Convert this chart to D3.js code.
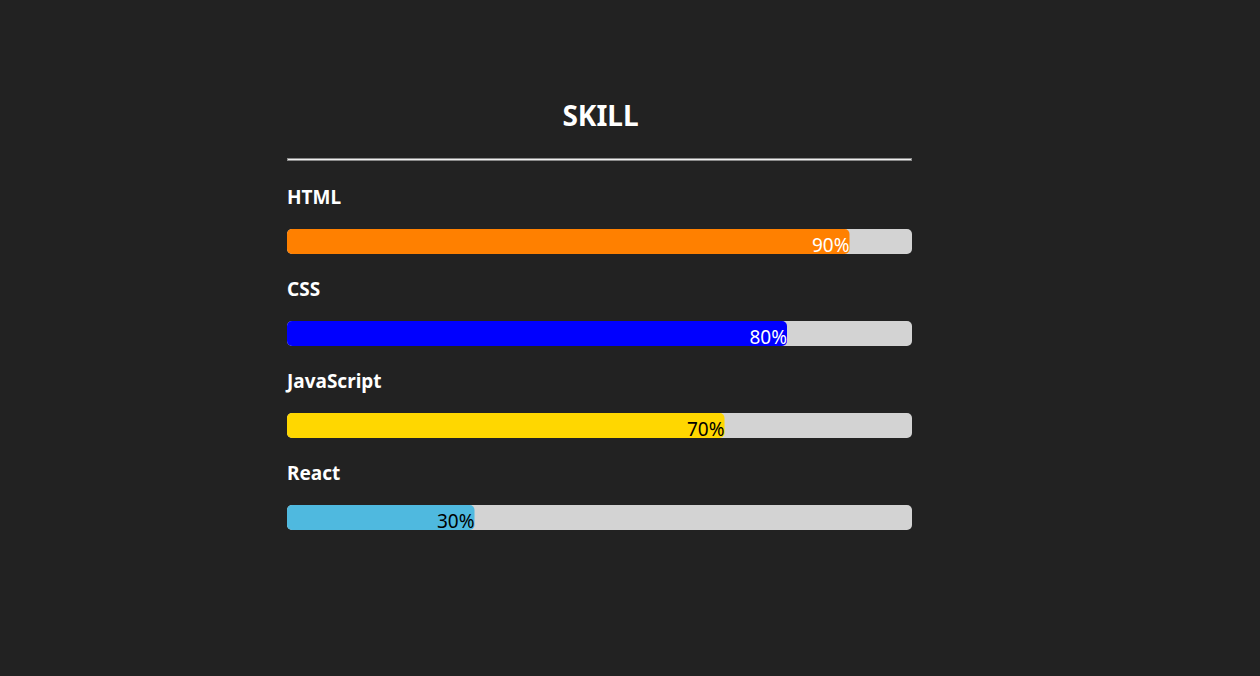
<!DOCTYPE html>
<html>
<head>
<meta charset="utf-8">
<script src="https://cdn.jsdelivr.net/npm/d3@7"></script>
<style>
  html, body { margin: 0; padding: 0; background: #222222; }
  svg { display: block; }
</style>
</head>
<body>
<svg id="chart" width="1260" height="676"></svg>
<script>
const title = "SKILL";
const skills = ["HTML", "CSS", "JavaScript", "React"];
const values = [90, 80, 70, 30];
const fillColors = ["#ff8000", "#0000ff", "#ffd700", "#4fb9df"];
const labelColors = ["#ffffff", "#ffffff", "#000000", "#000000"];

const data = skills.map((s, i) => ({ skill: s, value: values[i], color: fillColors[i], textColor: labelColors[i] }));

const svg = d3.select("#chart");
const left = 287, right = 912;
const barH = 25;

const x = d3.scaleLinear().domain([0, 100]).range([left, right]);
const y = d3.scaleBand().domain(skills).range([183, 551]).paddingInner(0).paddingOuter(0);

const font = "'Noto Sans', 'Open Sans', sans-serif";

// title
svg.append("text")
  .attr("x", (left + right) / 2 + 1)
  .attr("y", 126)
  .attr("text-anchor", "middle")
  .attr("font-family", font)
  .attr("font-weight", "bold")
  .attr("font-size", 28)
  .attr("fill", "#ffffff")
  .text(title);

// divider (hr-like)
svg.append("rect")
  .attr("x", left + 0.5).attr("y", 158.5)
  .attr("width", right - left - 1).attr("height", 2)
  .attr("fill", "#eeeeee")
  .attr("stroke", "#8a8a8a").attr("stroke-width", 1);

const g = svg.selectAll("g.skill").data(data).join("g").attr("class", "skill")
  .attr("transform", d => `translate(0,${y(d.skill)})`);

g.append("text")
  .attr("x", left)
  .attr("y", 21)
  .attr("font-family", font)
  .attr("font-weight", "bold")
  .attr("font-size", 19)
  .attr("fill", "#ffffff")
  .text(d => d.skill);

g.append("rect")
  .attr("x", x(0))
  .attr("y", 46)
  .attr("width", x(100) - x(0))
  .attr("height", barH)
  .attr("rx", 5)
  .attr("fill", "#d3d3d3");

g.append("rect")
  .attr("x", x(0))
  .attr("y", 46)
  .attr("width", d => x(d.value) - x(0))
  .attr("height", barH)
  .attr("rx", 5)
  .attr("fill", d => d.color);

g.append("text")
  .attr("x", d => x(d.value))
  .attr("y", 46 + 22.5)
  .attr("text-anchor", "end")
  .attr("font-family", font)
  .attr("font-size", 19)
  .attr("fill", d => d.textColor)
  .text(d => d.value + "%");
</script>
</body>
</html>
